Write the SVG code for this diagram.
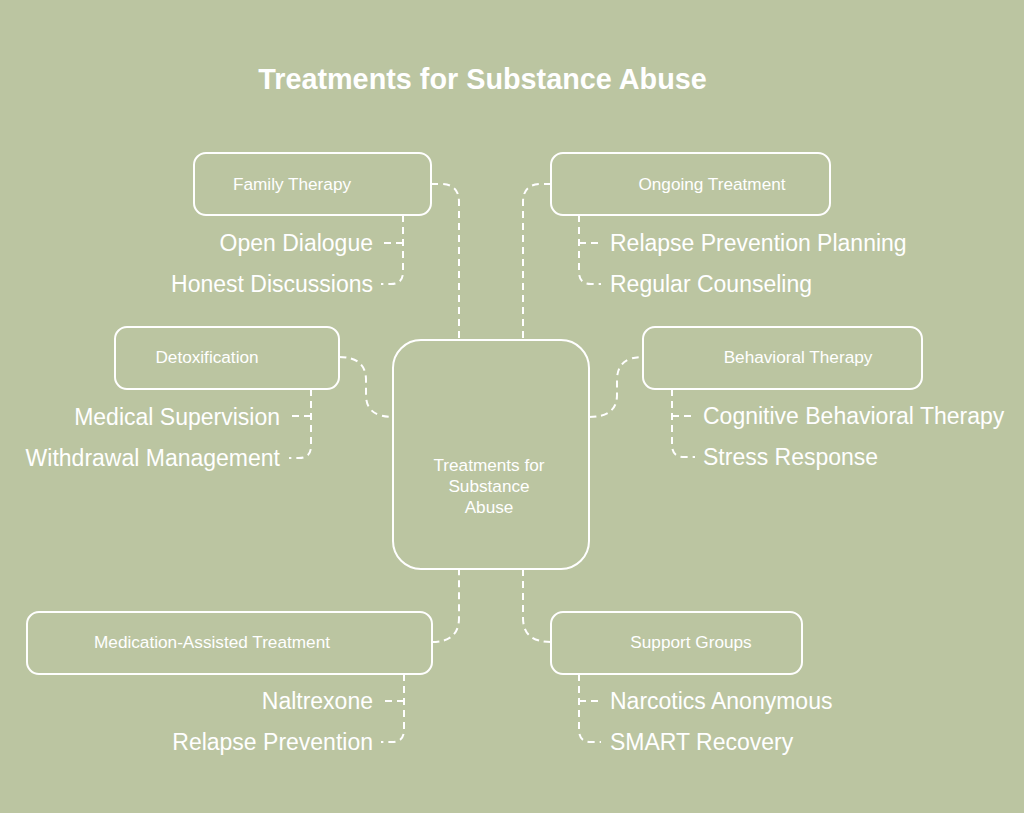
<svg xmlns="http://www.w3.org/2000/svg" width="1024" height="813" viewBox="0 0 1024 813">
<style>
.bg{fill:#BBC5A1}
.box{fill:none;stroke:#FFFFFF;stroke-width:2}
.lbl{font-family:"Liberation Sans",Arial,sans-serif;font-size:17.2px;fill:#FFFFFF;text-anchor:middle}
.sub{font-family:"Liberation Sans",Arial,sans-serif;font-size:23px;fill:#FFFFFF}
.l{text-anchor:end}
.r{text-anchor:start}
.title{font-family:"Liberation Sans",Arial,sans-serif;font-size:28.8px;font-weight:bold;fill:#FFFFFF;text-anchor:middle}
.con{fill:none;stroke:#FFFFFF;stroke-width:2;stroke-dasharray:7,5}
</style>
<rect class="bg" x="0" y="0" width="1024" height="813"/>
<text class="title" x="482.5" y="89">Treatments for Substance Abuse</text>
<g id="connectors">
<path class="con" d="M431,184 L441,184 Q459,184 459,202 L459,340"/>
<path class="con" d="M551,184 L541,184 Q523,184 523,202 L523,340"/>
<path class="con" d="M339,357 Q366,357 366,380 L366,395 Q366,417 393,417"/>
<path class="con" d="M589,417 Q617,417 617,395 L617,380 Q617,357 643,357"/>
<path class="con" d="M432,642 Q459,642 459,618 L459,569"/>
<path class="con" d="M523,569 L523,618 Q523,642 551,642"/>
<path class="con" d="M403,215 L403,272 Q403,284 391,284 L381,284"/>
<path class="con" d="M403,243 L383,243"/>
<path class="con" d="M579,215 L579,272 Q579,284 591,284 L601,284"/>
<path class="con" d="M579,243 L600,243"/>
<path class="con" d="M311,389 L311,446 Q311,458 299,458 L289,458"/>
<path class="con" d="M311,416 L290,416"/>
<path class="con" d="M672,389 L672,445 Q672,457 684,457 L695,457"/>
<path class="con" d="M672,416 L693,416"/>
<path class="con" d="M404,674 L404,730 Q404,742 392,742 L381,742"/>
<path class="con" d="M404,701 L383,701"/>
<path class="con" d="M579,674 L579,730 Q579,742 591,742 L601,742"/>
<path class="con" d="M579,701 L600,701"/>
</g>
<g id="center">
<rect class="box" x="393" y="340" width="196" height="229" rx="28"/>
<text class="lbl" x="489" y="471">Treatments for</text>
<text class="lbl" x="489" y="492">Substance</text>
<text class="lbl" x="489" y="513">Abuse</text>
</g>
<g id="family-therapy">
<rect class="box" x="194" y="153" width="237" height="62" rx="12"/>
<text class="lbl" x="292" y="190">Family Therapy</text>
<text class="sub l" x="373" y="251">Open Dialogue</text>
<text class="sub l" x="373" y="292">Honest Discussions</text>
</g>
<g id="ongoing-treatment">
<rect class="box" x="551" y="153" width="279" height="62" rx="12"/>
<text class="lbl" x="712" y="190">Ongoing Treatment</text>
<text class="sub r" x="610" y="251">Relapse Prevention Planning</text>
<text class="sub r" x="610" y="292">Regular Counseling</text>
</g>
<g id="detoxification">
<rect class="box" x="115" y="327" width="224" height="62" rx="12"/>
<text class="lbl" x="207" y="363">Detoxification</text>
<text class="sub l" x="280" y="425">Medical Supervision</text>
<text class="sub l" x="280" y="466">Withdrawal Management</text>
</g>
<g id="behavioral-therapy">
<rect class="box" x="643" y="327" width="279" height="62" rx="12"/>
<text class="lbl" x="798" y="363">Behavioral Therapy</text>
<text class="sub r" x="703" y="424">Cognitive Behavioral Therapy</text>
<text class="sub r" x="703" y="465">Stress Response</text>
</g>
<g id="medication-assisted-treatment">
<rect class="box" x="27" y="612" width="405" height="62" rx="12"/>
<text class="lbl" x="212" y="648">Medication-Assisted Treatment</text>
<text class="sub l" x="373" y="709">Naltrexone</text>
<text class="sub l" x="373" y="750">Relapse Prevention</text>
</g>
<g id="support-groups">
<rect class="box" x="551" y="612" width="251" height="62" rx="12"/>
<text class="lbl" x="691" y="648">Support Groups</text>
<text class="sub r" x="610" y="709">Narcotics Anonymous</text>
<text class="sub r" x="610" y="750">SMART Recovery</text>
</g>
</svg>
